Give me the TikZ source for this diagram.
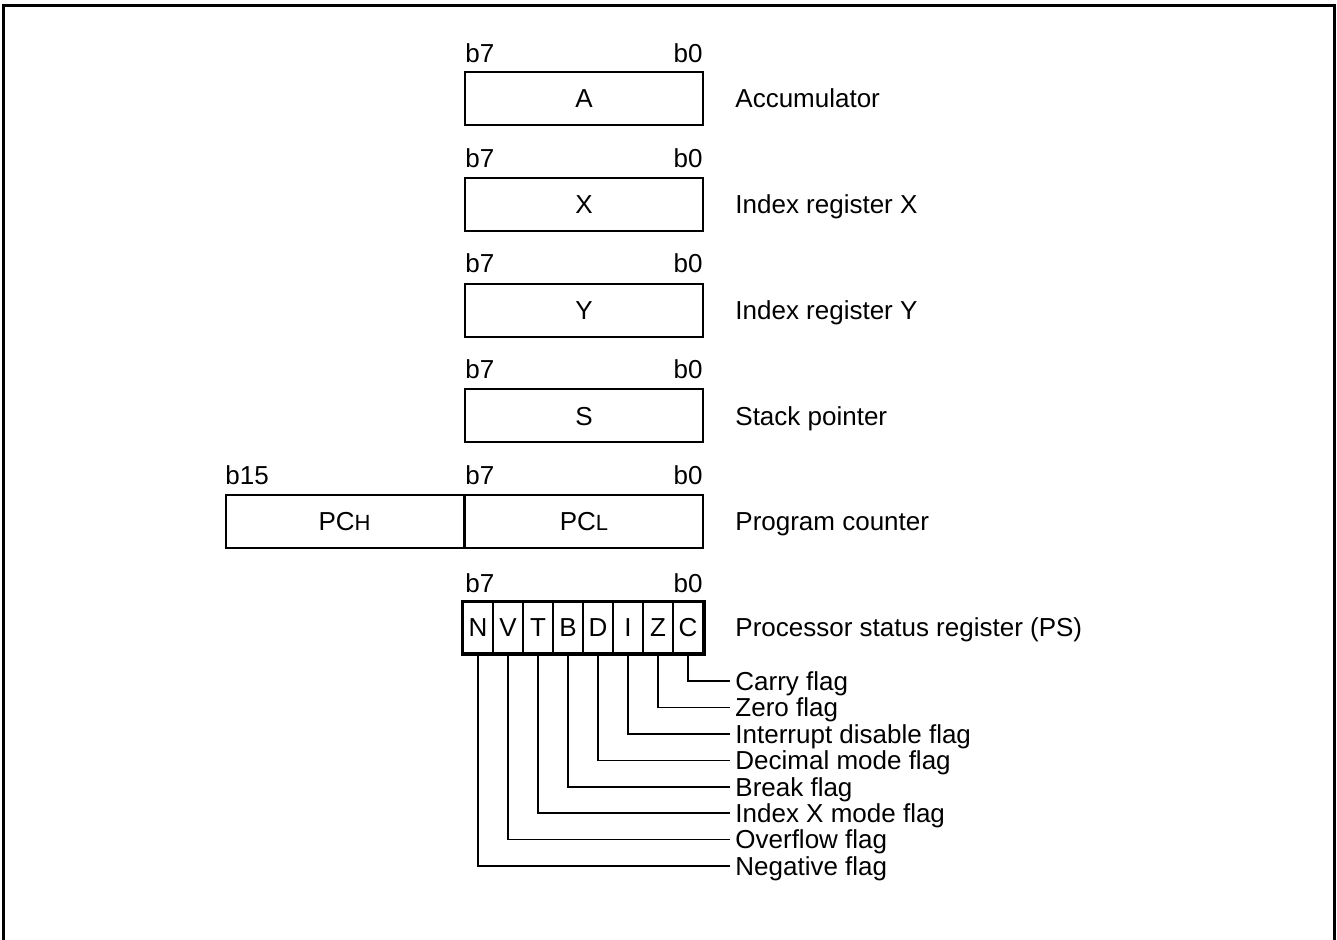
\documentclass[tikz,border=0pt]{standalone}
\usepackage{fontspec}
\setmainfont{Liberation Sans}
\usepackage{tikz}

\begin{document}
\begin{tikzpicture}[x=0.5pt,y=-0.5pt,
  reg/.style={draw,line width=1pt,minimum width=119pt,minimum height=26.5pt,inner sep=0pt,text height=9.3pt,text depth=0pt},
  flagbit/.style={draw,line width=1pt,minimum width=15pt,minimum height=25.5pt,inner sep=0pt,text height=9.3pt,text depth=0pt},
  txt/.style={inner sep=0pt,text height=9.3pt,text depth=0pt},
  desc/.style={anchor=west,inner xsep=2.5pt,inner ysep=0pt,text height=9.3pt,text depth=0pt}]
\tikzstyle{leader} = [draw,line width=0.75pt,-]
\fontsize{13}{15.6}\selectfont

\useasboundingbox (0,0) rectangle (1337,940);
\draw[line width=1.5pt] (3,950) -- (3,6) -- (1334,6) -- (1334,950);

% Accumulator
\node[txt,anchor=base west] (bA7) at (465,63) {b7};
\node[txt,anchor=base east] (bA0) at (703,63) {b0};
\node[reg] (A) at (584,98.5) {A};
\node[desc] (lA) at (730,98.5) {Accumulator};

% Index register X
\node[txt,anchor=base west] (bX7) at (465,168) {b7};
\node[txt,anchor=base east] (bX0) at (703,168) {b0};
\node[reg] (X) at (584,204.5) {X};
\node[desc] (lX) at (730,204.5) {Index register X};

% Index register Y
\node[txt,anchor=base west] (bY7) at (465,273) {b7};
\node[txt,anchor=base east] (bY0) at (703,273) {b0};
\node[reg] (Y) at (584,310.5) {Y};
\node[desc] (lY) at (730,310.5) {Index register Y};

% Stack pointer
\node[txt,anchor=base west] (bS7) at (465,379) {b7};
\node[txt,anchor=base east] (bS0) at (703,379) {b0};
\node[reg] (S) at (584,416) {S};
\node[desc] (lS) at (730,416) {Stack pointer};

% Program counter
\node[txt,anchor=base west] (bP15) at (225,485) {b15};
\node[txt,anchor=base west] (bP7) at (465,485) {b7};
\node[txt,anchor=base east] (bP0) at (703,485) {b0};
\node[reg] (PCH) at (344.5,521.5) {PC{\fontsize{11}{13}\selectfont H}};
\node[reg] (PCL) at (584,521.5) {PC{\fontsize{11}{13}\selectfont L}};
\node[desc] (lPC) at (730,521.5) {Program counter};

% Processor status register
\node[txt,anchor=base west] (bF7) at (465,592) {b7};
\node[txt,anchor=base east] (bF0) at (703,592) {b0};
\node[flagbit] (N) at (478,627.5) {N};
\node[flagbit] (V) at (508,627.5) {V};
\node[flagbit] (T) at (538,627.5) {T};
\node[flagbit] (B) at (568,627.5) {B};
\node[flagbit] (D) at (598,627.5) {D};
\node[flagbit] (I) at (628,627.5) {I};
\node[flagbit] (Z) at (658,627.5) {Z};
\node[flagbit] (C) at (688,627.5) {C};
\draw[line width=1.5pt] (N.north west) rectangle (C.south east);
\node[desc] (lPS) at (730,627.5) {Processor status register (PS)};

% Flag names
\node[desc] (lC) at (730,681) {Carry flag};
\node[desc] (lZ) at (730,707.5) {Zero flag};
\node[desc] (lI) at (730,734) {Interrupt disable flag};
\node[desc] (lD) at (730,760.5) {Decimal mode flag};
\node[desc] (lB) at (730,787) {Break flag};
\node[desc] (lT) at (730,813) {Index X mode flag};
\node[desc] (lV) at (730,839.5) {Overflow flag};
\node[desc] (lN) at (730,866) {Negative flag};

\path[leader] (C.south) |- (lC.west);
\path[leader] (Z.south) |- (lZ.west);
\path[leader] (I.south) |- (lI.west);
\path[leader] (D.south) |- (lD.west);
\path[leader] (B.south) |- (lB.west);
\path[leader] (T.south) |- (lT.west);
\path[leader] (V.south) |- (lV.west);
\path[leader] (N.south) |- (lN.west);

\end{tikzpicture}
\end{document}
